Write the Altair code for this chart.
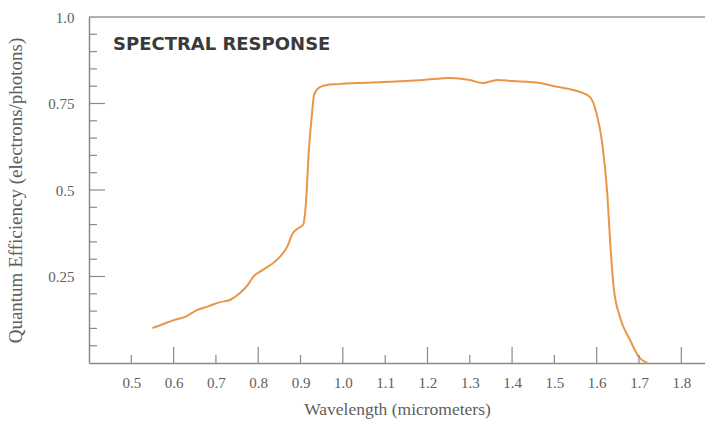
import altair as alt
import pandas as pd

# Curve
wavelength = [0.55, 0.57, 0.60, 0.63, 0.655, 0.68, 0.71, 0.733, 0.757, 0.775,
              0.788, 0.811, 0.844, 0.868, 0.882, 0.895, 0.906, 0.912, 0.920,
              0.927, 0.932, 0.945, 0.960, 0.990, 1.033, 1.10, 1.19, 1.253,
              1.30, 1.33, 1.365, 1.40, 1.466, 1.50, 1.545, 1.584, 1.600,
              1.613, 1.625, 1.632, 1.640, 1.655, 1.679, 1.700, 1.720]
efficiency = [0.101, 0.110, 0.124, 0.135, 0.153, 0.163, 0.176, 0.182, 0.202, 0.225,
              0.249, 0.269, 0.298, 0.335, 0.376, 0.390, 0.399, 0.450, 0.620,
              0.720, 0.775, 0.797, 0.803, 0.806, 0.809, 0.812, 0.818, 0.824,
              0.818, 0.809, 0.818, 0.815, 0.809, 0.800, 0.789, 0.769, 0.720,
              0.636, 0.490, 0.347, 0.220, 0.133, 0.066, 0.017, 0.000]

x_labels = [0.5, 0.6, 0.7, 0.8, 0.9, 1.0, 1.1, 1.2, 1.3, 1.4, 1.5, 1.6, 1.7, 1.8]
x_major_ticks = [0.6, 0.8, 1.0, 1.2, 1.4, 1.6, 1.8]
x_minor_ticks = [0.5, 0.7, 0.9, 1.1, 1.3, 1.5, 1.7]
y_labels = [0.25, 0.5, 0.75, 1.0]
y_major_ticks = [0.25, 0.5, 0.75]
y_minor_ticks = [0.05, 0.10, 0.15, 0.20, 0.30, 0.35, 0.40, 0.45,
                 0.55, 0.60, 0.65, 0.70, 0.80, 0.85, 0.90, 0.95]

W, H = 616, 346
X_DOMAIN = [0.4, 1.856]
Y_DOMAIN = [0.0, 1.0]
AXIS_GRAY = "#8a8a8a"
LABEL_GRAY = "#5e5e5e"
SERIF = "Liberation Serif"
X_TITLE = "Wavelength (micrometers)"
Y_TITLE = "Quantum Efficiency (electrons/photons)"

curve = pd.DataFrame({"wl": wavelength, "qe": efficiency})

xscale = alt.Scale(domain=X_DOMAIN, nice=False, zero=False)
yscale = alt.Scale(domain=Y_DOMAIN, nice=False, zero=False)

x_axis = alt.Axis(values=x_labels, format=".1f", ticks=False, grid=False,
                  labelPadding=12, labelFont=SERIF, labelFontSize=15,
                  labelColor=LABEL_GRAY, domainColor=AXIS_GRAY, domainWidth=1.5,
                  title=X_TITLE, titleFont=SERIF,
                  titleFontSize=17.5, titleFontWeight="normal",
                  titleColor=LABEL_GRAY, titlePadding=10)
y_axis = alt.Axis(values=y_labels, ticks=False, grid=False,
                  labelExpr="datum.value == 1 ? '1.0' : format(datum.value, '.2~f')",
                  labelPadding=15, labelFont=SERIF, labelFontSize=15,
                  labelColor=LABEL_GRAY, domainColor=AXIS_GRAY, domainWidth=1.5,
                  title=Y_TITLE, titleFont=SERIF,
                  titleFontSize=19, titleFontWeight="normal",
                  titleColor=LABEL_GRAY, titlePadding=22)

line = alt.Chart(curve).mark_line(
    color="#EB9646", strokeWidth=2, interpolate="monotone"
).encode(
    x=alt.X("wl:Q", scale=xscale, axis=x_axis, title=X_TITLE),
    y=alt.Y("qe:Q", scale=yscale, axis=y_axis, title=Y_TITLE),
)

def yticks(vals, length):
    return alt.Chart(pd.DataFrame({"v": vals})).mark_rule(
        color=AXIS_GRAY, strokeWidth=1.2
    ).encode(y=alt.Y("v:Q", scale=yscale, axis=y_axis, title=Y_TITLE),
             x=alt.value(0), x2=alt.value(length))

def xticks(vals, length):
    return alt.Chart(pd.DataFrame({"v": vals})).mark_rule(
        color=AXIS_GRAY, strokeWidth=1.2
    ).encode(x=alt.X("v:Q", scale=xscale, axis=x_axis, title=X_TITLE),
             y=alt.value(H), y2=alt.value(H - length))

top_line = alt.Chart(pd.DataFrame({"v": [0]})).mark_rule(
    color="#9a9a9a", strokeWidth=1.5
).encode(x=alt.value(0), x2=alt.value(W), y=alt.value(0))

title = alt.Chart(pd.DataFrame({"t": ["SPECTRAL RESPONSE"]})).mark_text(
    align="left", baseline="middle", font="DejaVu Sans", fontWeight="bold",
    fontSize=18, color="#3a3a3a"
).encode(text="t:N", x=alt.value(24), y=alt.value(28))

chart = alt.layer(
    line,
    yticks(y_minor_ticks, 8), yticks(y_major_ticks, 16),
    xticks(x_minor_ticks, 8), xticks(x_major_ticks, 16),
    top_line, title
).properties(
    width=W, height=H,
    autosize=alt.AutoSizeParams(type="none"),
    padding={"left": 89, "top": 17, "right": 0, "bottom": 60},
).configure_view(stroke=None).configure(background="white")

chart.save("out.html", embed_options={"renderer": "svg", "actions": False})
